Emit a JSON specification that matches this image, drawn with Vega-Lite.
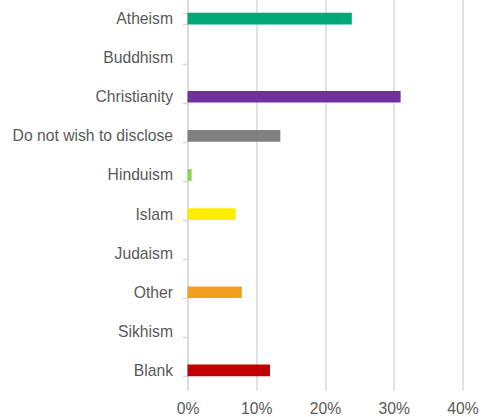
{
  "$schema": "https://vega.github.io/schema/vega-lite/v6.json",
  "autosize": {"type": "none"},
  "width": 275,
  "height": 391,
  "padding": {"left": 187.5, "top": -1, "right": 19.5, "bottom": 27},
  "background": "white",
  "config": {
    "view": {"stroke": null},
    "font": "Liberation Sans",
    "axis": {"labelFont": "Liberation Sans"}
  },
  "data": {
    "values": [
      {"religion": "Atheism", "share": 0.239, "color": "#00A875"},
      {"religion": "Buddhism", "share": 0, "color": "#4472C4"},
      {"religion": "Christianity", "share": 0.310, "color": "#7030A0"},
      {"religion": "Do not wish to disclose", "share": 0.135, "color": "#808080"},
      {"religion": "Hinduism", "share": 0.006, "color": "#92D050"},
      {"religion": "Islam", "share": 0.070, "color": "#FFED00"},
      {"religion": "Judaism", "share": 0, "color": "#5B9BD5"},
      {"religion": "Other", "share": 0.079, "color": "#F29F1F"},
      {"religion": "Sikhism", "share": 0, "color": "#ED7D31"},
      {"religion": "Blank", "share": 0.120, "color": "#C00000"}
    ]
  },
  "mark": {"type": "bar"},
  "encoding": {
    "y": {
      "field": "religion",
      "type": "nominal",
      "sort": null,
      "scale": {"paddingInner": 0.7, "paddingOuter": 0.35},
      "axis": {
        "title": null,
        "domain": true,
        "domainColor": "#d9d9d9",
        "domainWidth": 1.5,
        "ticks": true,
        "tickBand": "extent",
        "tickColor": "#d9d9d9",
        "tickWidth": 1.5,
        "tickSize": 5,
        "labelPadding": 10,
        "labelFont": "Liberation Sans",
        "labelFontSize": 15.7,
        "labelColor": "#595959",
        "grid": false
      }
    },
    "x": {
      "field": "share",
      "type": "quantitative",
      "scale": {"domain": [0, 0.4], "nice": false},
      "axis": {
        "title": null,
        "values": [0, 0.1, 0.2, 0.3, 0.4],
        "format": ".0%",
        "domain": false,
        "ticks": false,
        "grid": true,
        "gridColor": "#d9d9d9",
        "gridWidth": 1.5,
        "labelFlush": false,
        "labelPadding": 11,
        "labelFont": "Liberation Sans",
        "labelFontSize": 15.7,
        "labelColor": "#595959"
      }
    },
    "color": {"field": "color", "type": "nominal", "scale": null, "legend": null}
  }
}
